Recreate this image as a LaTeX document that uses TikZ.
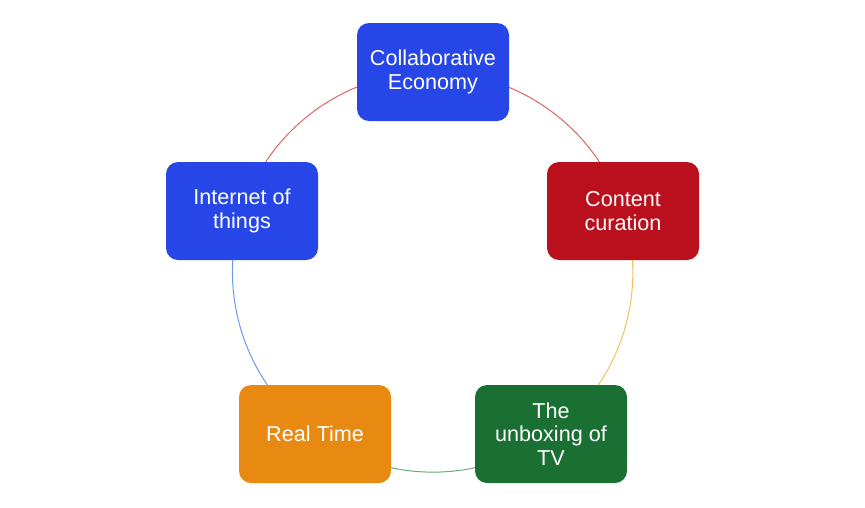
\documentclass[tikz,border=0pt]{standalone}
\usepackage{fontspec}
\setmainfont{Liberation Sans}
\usetikzlibrary{backgrounds}
\definecolor{boxblue}{RGB}{38,70,232}
\definecolor{boxred}{RGB}{186,16,30}
\definecolor{boxgreen}{RGB}{26,112,50}
\definecolor{boxorange}{RGB}{232,138,18}
\definecolor{arcred}{RGB}{222,100,100}
\definecolor{arcyellow}{RGB}{242,192,90}
\definecolor{arcgreen}{RGB}{100,172,120}
\definecolor{arcblue}{RGB}{110,150,240}
\begin{document}
\begin{tikzpicture}[x=1pt,y=-1pt,
	box/.style={rounded corners=12pt,minimum width=152pt,minimum height=98pt,
		text=white,align=center,font=\fontsize{21.6}{23.5}\selectfont},
	ring/.style={line width=1pt,bend left=36,looseness=0.94}]
	\useasboundingbox (0,0) rectangle (865,507);
	\node[box,fill=boxblue] (collab) at (433,72) {Collaborative\\Economy};
	\node[box,fill=boxred] (curation) at (623,211) {Content\\curation};
	\node[box,fill=boxgreen] (tv) at (551,434) {The\\unboxing of\\TV};
	\node[box,fill=boxorange] (realtime) at (315,434) {Real Time};
	\node[box,fill=boxblue] (iot) at (242,211) {Internet of\\things};
	\begin{scope}[on background layer]
		\draw[ring,arcred] (collab.center) to (curation.center);
		\draw[ring,arcyellow] (curation.center) to (tv.center);
		\draw[ring,arcgreen] (tv.center) to (realtime.center);
		\draw[ring,arcblue] (realtime.center) to (iot.center);
		\draw[ring,arcred] (iot.center) to (collab.center);
	\end{scope}
\end{tikzpicture}
\end{document}
